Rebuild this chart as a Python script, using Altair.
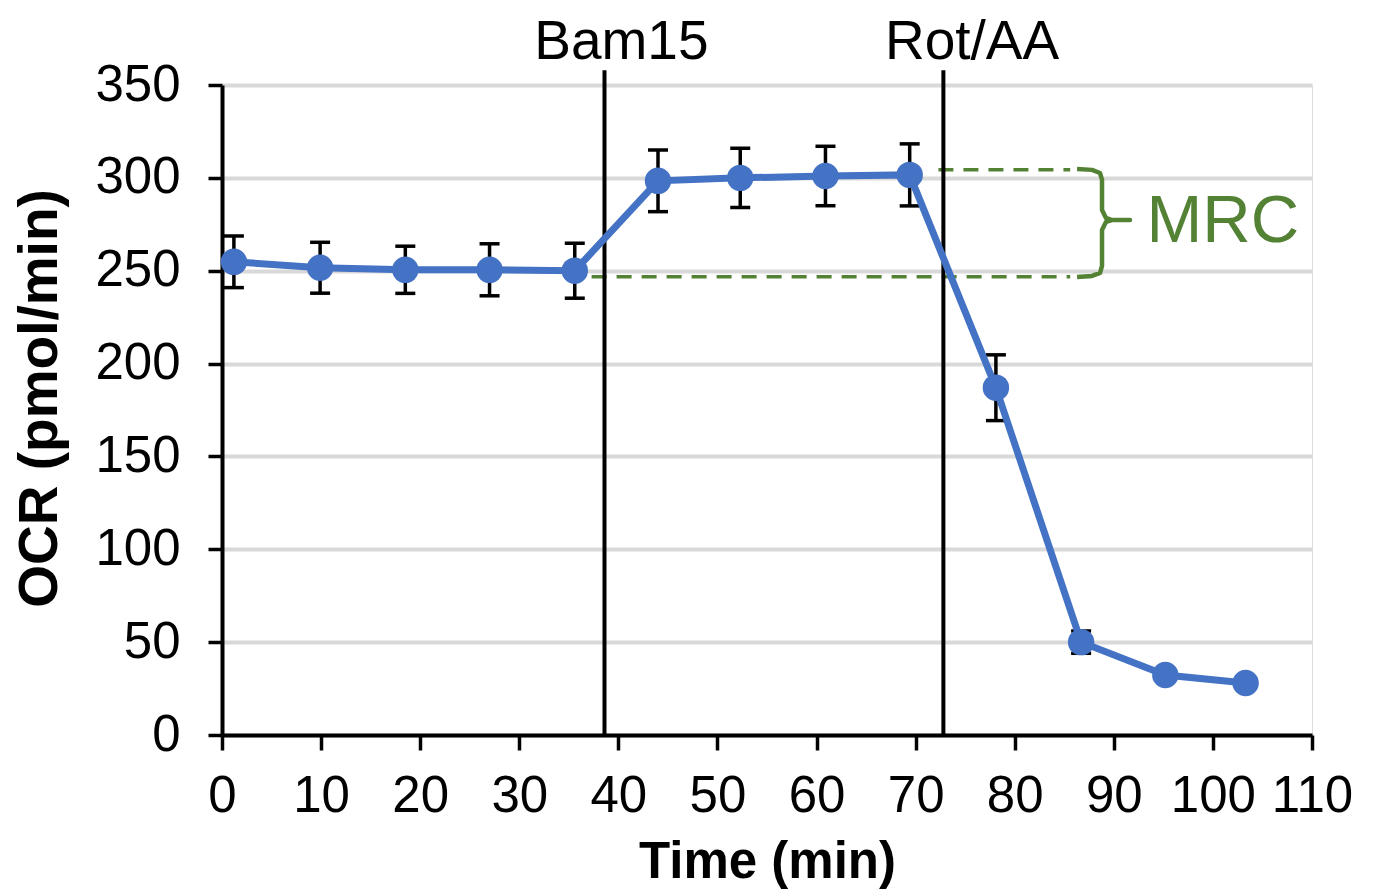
import altair as alt
import pandas as pd

# --- data ---
time_min = [1.2, 9.9, 18.5, 27.0, 35.6, 44.0, 52.3, 60.9, 69.4, 78.1, 86.7, 95.2, 103.3]
ocr = [254.8, 251.6, 250.5, 250.5, 250.0, 298.4, 300.0, 301.0, 301.6, 187.0, 50.0, 32.3, 28.0]
ocr_err = [13.9, 13.7, 12.7, 14.0, 14.8, 16.6, 15.9, 16.0, 16.7, 17.7, 6.0, 3.0, 3.0]

injection_names = ["Bam15", "Rot/AA"]
injection_time = [38.6, 72.8]
injection_label_x = [40.3, 75.7]
injection_top = 358
injection_label_y = 364

mrc_levels = [246.8, 304.3]
mrc_start = [37.3, 72.3]
mrc_end = [85.6, 85.6]
mrc_label = "MRC"
mrc_label_pos = (93.3, 276.5)

brace_x = [86.29, 87.80, 88.61, 88.81, 88.81, 89.21, 89.82, 91.63, 89.82, 89.21, 88.81, 88.81, 88.61, 87.80, 86.29]
brace_y = [304.8, 304.3, 302.6, 298.9, 282.7, 278.4, 277.3, 277.3, 277.3, 276.3, 271.9, 252.6, 248.8, 247.2, 246.6]

x_ticks = list(range(0, 111, 10))
y_ticks = list(range(0, 351, 50))

FONT = "Liberation Sans"
BLUE = "#4472C4"
GREEN = "#548235"

df = pd.DataFrame({"t": time_min, "ocr": ocr, "err": ocr_err})
df["lo"] = df["ocr"] - df["err"]
df["hi"] = df["ocr"] + df["err"]

inj = pd.DataFrame({"name": injection_names, "t": injection_time, "lx": injection_label_x,
                    "y0": [0] * 2, "y1": [injection_top] * 2, "ly": [injection_label_y] * 2})
mrc = pd.DataFrame({"y": mrc_levels, "x0": mrc_start, "x1": mrc_end})
brace = pd.DataFrame({"x": brace_x, "y": brace_y, "i": list(range(len(brace_x)))})
mrc_txt = pd.DataFrame({"x": [mrc_label_pos[0]], "y": [mrc_label_pos[1]], "label": [mrc_label]})

xscale = alt.Scale(domain=[0, 110], nice=False, zero=False)
yscale = alt.Scale(domain=[0, 350], nice=False)

x_axis = alt.Axis(values=x_ticks, title="Time (min)", grid=False, labelFlush=False,
                  labelFontSize=51, labelPadding=21, tickSize=15, tickWidth=3.5, tickColor="black",
                  domainColor="black", domainWidth=4, titleFontSize=51, titleFontWeight="bold",
                  titlePadding=16, labelColor="black", titleColor="black", labelFont=FONT, titleFont=FONT)
y_axis = alt.Axis(values=y_ticks, title="OCR (pmol/min)", grid=True, gridColor="#d9d9d9", gridWidth=4,
                  labelFontSize=51, labelPadding=28, tickSize=14, tickWidth=3.5, tickColor="black",
                  domainColor="black", domainWidth=4, titleFontSize=55, titleFontWeight="bold",
                  titlePadding=26, titleY=313, labelColor="black", titleColor="black",
                  labelFont=FONT, titleFont=FONT)

base = alt.Chart(df)

axes_layer = base.mark_point(opacity=0).encode(
    x=alt.X("t:Q", scale=xscale, axis=x_axis),
    y=alt.Y("ocr:Q", scale=yscale, axis=y_axis),
)

dash = alt.Chart(mrc).mark_rule(color=GREEN, strokeWidth=3.5, strokeDash=[15, 10]).encode(
    x=alt.X("x0:Q", scale=xscale), x2="x1:Q", y=alt.Y("y:Q", scale=yscale))

brace_layer = alt.Chart(brace).mark_line(color=GREEN, strokeWidth=4.5, strokeJoin="round", interpolate="linear").encode(
    x=alt.X("x:Q", scale=xscale), y=alt.Y("y:Q", scale=yscale), order="i:Q")

mrc_text = alt.Chart(mrc_txt).mark_text(font=FONT, fontSize=67, color=GREEN, align="left", baseline="middle").encode(
    x=alt.X("x:Q", scale=xscale), y=alt.Y("y:Q", scale=yscale), text="label:N")

vlines = alt.Chart(inj).mark_rule(color="black", strokeWidth=4).encode(
    x=alt.X("t:Q", scale=xscale), y=alt.Y("y0:Q", scale=yscale), y2="y1:Q")

vlabels = alt.Chart(inj).mark_text(font=FONT, fontSize=55, color="black", align="center", baseline="alphabetic").encode(
    x=alt.X("lx:Q", scale=xscale), y=alt.Y("ly:Q", scale=yscale), text="name:N")

err_rule = base.mark_rule(color="black", strokeWidth=3.5).encode(
    x=alt.X("t:Q", scale=xscale), y=alt.Y("lo:Q", scale=yscale), y2="hi:Q")
err_lo = base.mark_tick(color="black", thickness=3.5, size=20, orient="horizontal", opacity=1).encode(
    x=alt.X("t:Q", scale=xscale), y=alt.Y("lo:Q", scale=yscale))
err_hi = base.mark_tick(color="black", thickness=3.5, size=20, orient="horizontal", opacity=1).encode(
    x=alt.X("t:Q", scale=xscale), y=alt.Y("hi:Q", scale=yscale))

line = base.mark_line(color=BLUE, strokeWidth=7).encode(
    x=alt.X("t:Q", scale=xscale), y=alt.Y("ocr:Q", scale=yscale))
points = base.mark_circle(color=BLUE, size=700, opacity=1).encode(
    x=alt.X("t:Q", scale=xscale), y=alt.Y("ocr:Q", scale=yscale))

chart = alt.layer(axes_layer, dash, brace_layer, mrc_text, vlines, vlabels,
                  err_rule, err_lo, err_hi, line, points).properties(
    width=1090, height=650,
    padding={"left": 214, "top": 77, "right": 40, "bottom": 158},
    autosize=alt.AutoSizeParams(type="none"),
).configure_view(stroke=None).configure(font=FONT, background="white")

chart.save("out.html", embed_options={"renderer": "svg", "actions": False})
